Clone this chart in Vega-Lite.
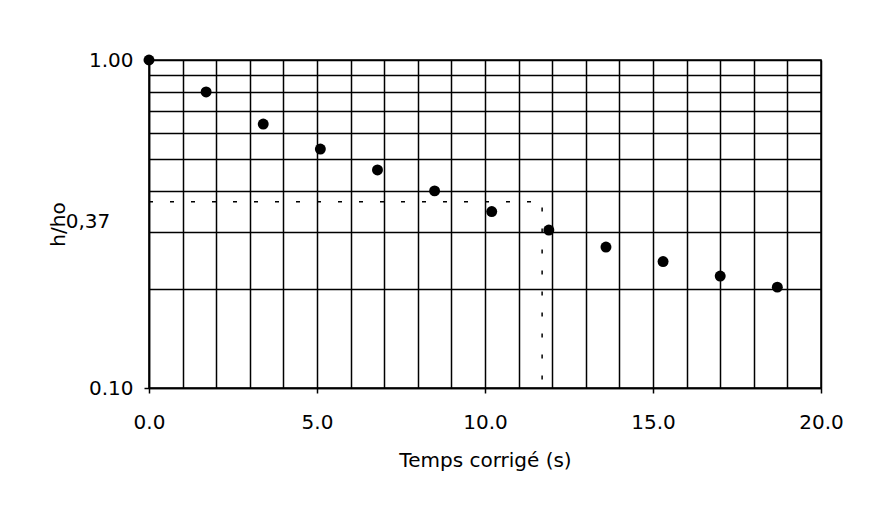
{
  "$schema": "https://vega.github.io/schema/vega-lite/v6.json",
  "width": 672,
  "height": 328,
  "autosize": "none",
  "padding": {"left": 149, "top": 60, "right": 48, "bottom": 118},
  "background": "white",
  "config": {
    "font": "DejaVu Sans",
    "view": {"stroke": "black", "strokeWidth": 1.5},
    "axis": {
      "grid": true,
      "gridColor": "black",
      "gridWidth": 1.5,
      "gridOpacity": 1,
      "domainColor": "black",
      "domainWidth": 1.5,
      "tickColor": "black",
      "tickWidth": 1.5,
      "tickSize": 5,
      "labelColor": "black",
      "labelFont": "DejaVu Sans",
      "labelFontSize": 20,
      "labelOverlap": false,
      "labelFlush": false,
      "titleColor": "black",
      "titleFont": "DejaVu Sans",
      "titleFontSize": 20,
      "titleFontWeight": "normal"
    }
  },
  "datasets": {
    "points": [
      {"t": 0.0, "v": 1.0},
      {"t": 1.7, "v": 0.799},
      {"t": 3.4, "v": 0.638},
      {"t": 5.1, "v": 0.535},
      {"t": 6.8, "v": 0.462},
      {"t": 8.5, "v": 0.399},
      {"t": 10.2, "v": 0.345},
      {"t": 11.9, "v": 0.303},
      {"t": 13.6, "v": 0.269},
      {"t": 15.3, "v": 0.243},
      {"t": 17.0, "v": 0.2195},
      {"t": 18.7, "v": 0.203}
    ],
    "guide": [
      {"t": 0.0, "v": 0.37, "step": 1},
      {"t": 11.7, "v": 0.37, "step": 2},
      {"t": 11.7, "v": 0.1, "step": 3}
    ],
    "note": [
      {"t": 0.0, "v": 0.37, "label": "0,37"}
    ]
  },
  "encoding": {
    "x": {
      "field": "t",
      "type": "quantitative",
      "scale": {"domain": [0, 20], "nice": false, "zero": false},
      "axis": {
        "title": "Temps corrigé (s)",
        "values": [0,1,2,3,4,5,6,7,8,9,10,11,12,13,14,15,16,17,18,19,20],
        "labelExpr": "datum.value % 5 == 0 ? format(datum.value, '.1f') : ''",
        "tickOpacity": {"condition": {"test": "datum.value % 5 == 0", "value": 1}, "value": 0},
        "labelPadding": 19,
        "titlePadding": 18
      }
    },
    "y": {
      "field": "v",
      "type": "quantitative",
      "scale": {"type": "log", "domain": [0.1, 1], "nice": false},
      "axis": {
        "title": "h/ho",
        "values": [0.1,0.2,0.3,0.4,0.5,0.6,0.7,0.8,0.9,1],
        "labelExpr": "datum.value == 1 || datum.value == 0.1 ? format(datum.value, '.2f') : ''",
        "tickOpacity": {"condition": {"test": "datum.value == 1 || datum.value == 0.1", "value": 1}, "value": 0},
        "labelPadding": 11,
        "titlePadding": 20
      }
    }
  },
  "layer": [
    {
      "data": {"name": "guide"},
      "mark": {"type": "line", "color": "black", "strokeWidth": 1.5, "strokeDash": [4, 17]},
      "encoding": {
        "order": {"field": "step", "type": "quantitative"}
      }
    },
    {
      "data": {"name": "points"},
      "mark": {"type": "circle", "color": "black", "opacity": 1, "size": 120},
      "encoding": {}
    },
    {
      "data": {"name": "note"},
      "mark": {"type": "text", "font": "DejaVu Sans", "fontSize": 20, "color": "black", "align": "center", "baseline": "middle", "dx": -61, "dy": 20},
      "encoding": {
        "text": {"field": "label"}
      }
    }
  ]
}
